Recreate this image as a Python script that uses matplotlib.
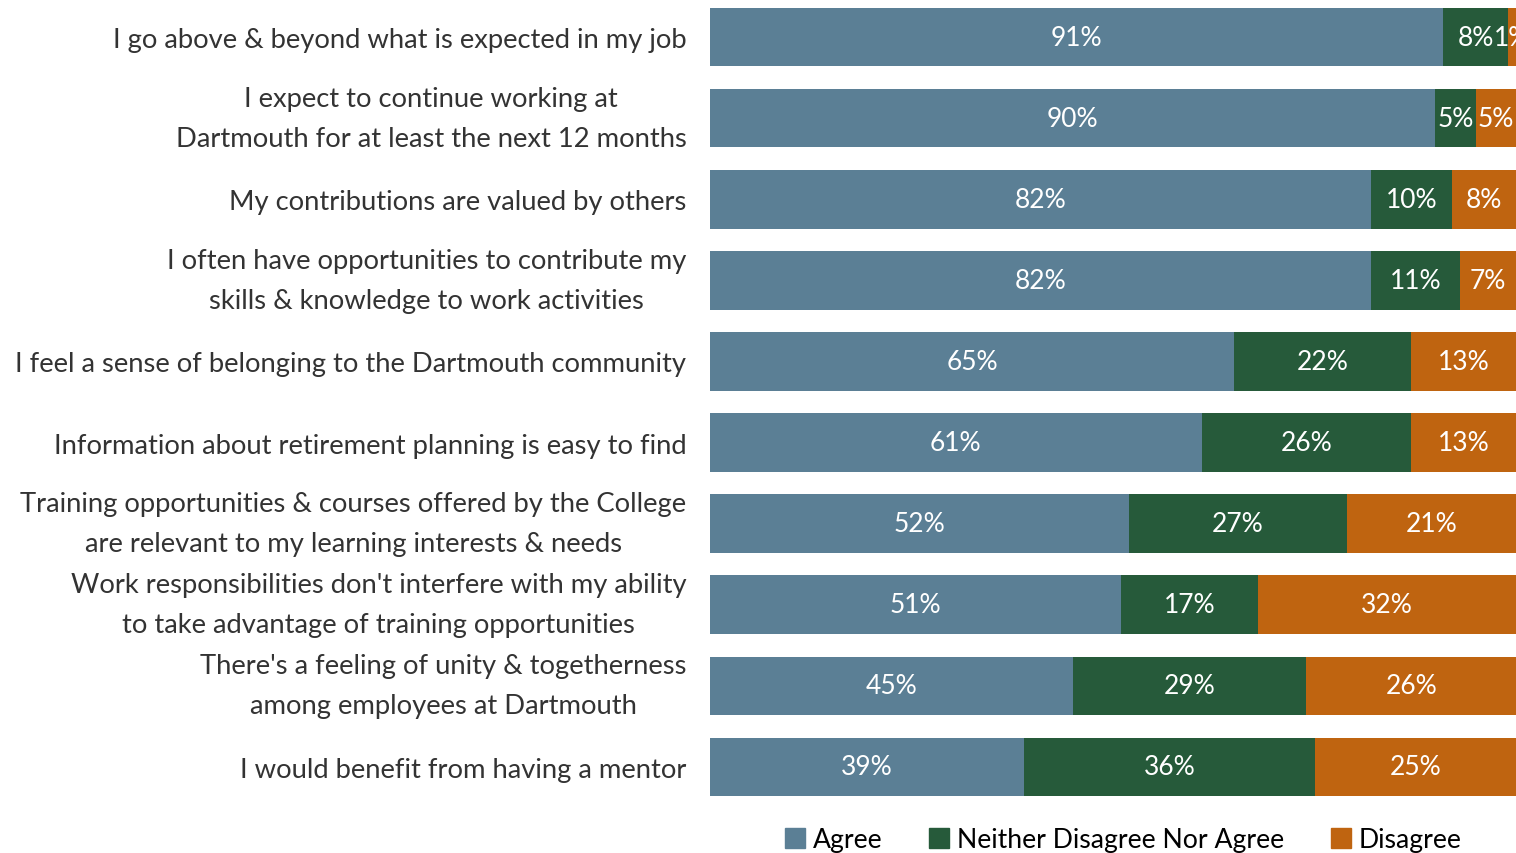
import numpy as np
import matplotlib.pyplot as plt
from matplotlib.patches import Patch

plt.rcParams['font.family'] = ['Lato', 'DejaVu Sans']

statements = [
    "I go above & beyond what is expected in my job",
    "I expect to continue working at\nDartmouth for at least the next 12 months",
    "My contributions are valued by others",
    "I often have opportunities to contribute my\nskills & knowledge to work activities",
    "I feel a sense of belonging to the Dartmouth community",
    "Information about retirement planning is easy to find",
    "Training opportunities & courses offered by the College\nare relevant to my learning interests & needs",
    "Work responsibilities don't interfere with my ability\nto take advantage of training opportunities",
    "There's a feeling of unity & togetherness\namong employees at Dartmouth",
    "I would benefit from having a mentor",
]
agree = [91, 90, 82, 82, 65, 61, 52, 51, 45, 39]
neither = [8, 5, 10, 11, 22, 26, 27, 17, 29, 36]
disagree = [1, 5, 8, 7, 13, 13, 21, 32, 26, 25]

series_names = ["Agree", "Neither Disagree Nor Agree", "Disagree"]
colors = ["#5b7f95", "#265a3a", "#bf6410"]

fig = plt.figure(figsize=(15.16, 8.54), dpi=100)
ax = fig.add_axes([710 / 1516, 1 - 797 / 854, 806 / 1516, 788 / 854])

y = np.arange(len(statements))
h = 0.72
left = np.zeros(len(statements))
for vals, col in zip([agree, neither, disagree], colors):
    vals = np.array(vals, dtype=float)
    ax.barh(y, vals, left=left, height=h, color=col)
    for yi, l, v in zip(y, left, vals):
        ax.text(l + v / 2, yi, f"{int(v)}%", ha="center", va="center",
                color="white", fontsize=19)
    left = left + vals

ax.set_xlim(0, 100)
ax.set_ylim(len(statements) - 1 + h / 2, -h / 2)
ax.set_yticks(y)
ax.set_yticklabels(statements, fontsize=19.7, color="#333333",
                   multialignment="center", linespacing=1.75)
for lbl in ax.get_yticklabels():
    if "\n" in lbl.get_text():
        lbl.set_va("center")
ax.tick_params(axis="y", length=0, pad=17)
ax.set_xticks([])
for s in ax.spines.values():
    s.set_visible(False)

handles = [Patch(color=c, label=n) for c, n in zip(colors, series_names)]
fig.legend(handles=handles, loc="center", bbox_to_anchor=(1123 / 1516, 1 - 841 / 854),
           ncol=3, frameon=False, fontsize=19.2, handlelength=0.75, handleheight=0.75,
           handletextpad=0.3, columnspacing=1.75, labelcolor="black")

fig.savefig("out.png", dpi=100)
